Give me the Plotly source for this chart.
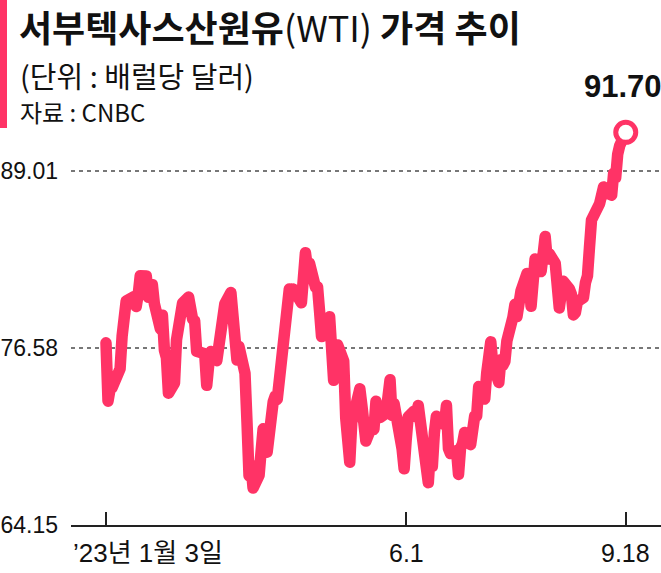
import plotly.graph_objects as go

# ---- data ----
dates = [
    "2023-01-03","2023-01-04","2023-01-05","2023-01-06","2023-01-09","2023-01-10","2023-01-11","2023-01-12","2023-01-13",
    "2023-01-17","2023-01-18","2023-01-19","2023-01-20","2023-01-23","2023-01-24","2023-01-25","2023-01-26","2023-01-27",
    "2023-01-30","2023-01-31","2023-02-01","2023-02-02","2023-02-03","2023-02-06","2023-02-07","2023-02-08","2023-02-09","2023-02-10",
    "2023-02-13","2023-02-14","2023-02-15","2023-02-16","2023-02-17","2023-02-21","2023-02-22","2023-02-23","2023-02-24",
    "2023-02-27","2023-02-28","2023-03-01","2023-03-02","2023-03-03","2023-03-06","2023-03-07","2023-03-08","2023-03-09","2023-03-10",
    "2023-03-13","2023-03-14","2023-03-15","2023-03-16","2023-03-17","2023-03-20","2023-03-21","2023-03-22","2023-03-23","2023-03-24",
    "2023-03-27","2023-03-28","2023-03-29","2023-03-30","2023-03-31","2023-04-03","2023-04-04","2023-04-05","2023-04-06",
    "2023-04-10","2023-04-11","2023-04-12","2023-04-13","2023-04-14","2023-04-17","2023-04-18","2023-04-19","2023-04-20","2023-04-21",
    "2023-04-24","2023-04-25","2023-04-26","2023-04-27","2023-04-28","2023-05-01","2023-05-02","2023-05-03","2023-05-04","2023-05-05",
    "2023-05-08","2023-05-09","2023-05-10","2023-05-11","2023-05-12","2023-05-15","2023-05-16","2023-05-17","2023-05-18","2023-05-19",
    "2023-05-22","2023-05-23","2023-05-24","2023-05-25","2023-05-26","2023-05-30","2023-05-31","2023-06-01","2023-06-02",
    "2023-06-05","2023-06-06","2023-06-07","2023-06-08","2023-06-09","2023-06-12","2023-06-13","2023-06-14","2023-06-15","2023-06-16",
    "2023-06-20","2023-06-21","2023-06-22","2023-06-23","2023-06-26","2023-06-27","2023-06-28","2023-06-29","2023-06-30",
    "2023-07-03","2023-07-05","2023-07-06","2023-07-07","2023-07-10","2023-07-11","2023-07-12","2023-07-13","2023-07-14",
    "2023-07-17","2023-07-18","2023-07-19","2023-07-20","2023-07-21","2023-07-24","2023-07-25","2023-07-26","2023-07-27","2023-07-28",
    "2023-07-31","2023-08-01","2023-08-02","2023-08-03","2023-08-04","2023-08-07","2023-08-08","2023-08-09","2023-08-10","2023-08-11",
    "2023-08-14","2023-08-15","2023-08-16","2023-08-17","2023-08-18","2023-08-21","2023-08-22","2023-08-23","2023-08-24","2023-08-25",
    "2023-08-28","2023-08-29","2023-08-30","2023-08-31","2023-09-01","2023-09-05","2023-09-06","2023-09-07","2023-09-08",
    "2023-09-11","2023-09-12","2023-09-13","2023-09-14","2023-09-15","2023-09-18",
]
prices = [
    76.93, 72.84, 73.67, 73.77, 74.63, 75.12, 77.41, 78.39, 79.86,
    80.18, 79.48, 80.33, 81.64, 81.62, 80.13, 80.15, 81.01, 79.68,
    77.90, 78.87, 76.41, 75.88, 73.39, 74.11, 77.14, 78.47, 78.06, 79.72,
    80.14, 79.06, 78.59, 78.49, 76.34, 76.16, 73.95, 75.39, 76.32,
    75.68, 77.05, 77.69, 78.16, 79.68, 80.46, 77.58, 76.66, 75.72, 76.68,
    74.80, 71.33, 67.61, 68.35, 66.74, 67.64, 69.33, 70.90, 69.96, 69.26,
    72.81, 73.20, 72.97, 74.37, 75.67, 80.42, 80.71, 80.61, 80.70,
    79.74, 81.53, 83.26, 82.16, 82.52, 80.83, 80.86, 79.16, 77.37, 77.87,
    78.76, 77.07, 74.30, 74.76, 76.78, 75.66, 71.66, 68.60, 68.56, 71.34,
    73.16, 73.71, 72.56, 70.87, 70.04, 71.11, 70.86, 72.83, 71.86, 71.69,
    71.99, 72.91, 74.34, 71.83, 72.67, 69.46, 68.09, 70.10, 71.74,
    72.15, 71.74, 72.53, 71.29, 70.17, 67.12, 69.42, 68.27, 70.62, 71.78,
    71.19, 72.53, 69.51, 69.16, 69.37, 67.70, 69.56, 69.86, 70.64,
    69.79, 71.79, 71.80, 73.86, 72.99, 74.83, 75.75, 77.00, 75.42,
    74.15, 75.75, 75.35, 75.63, 77.07, 78.74, 79.63, 78.78, 80.09, 80.58,
    81.80, 81.37, 79.49, 81.55, 82.82, 81.94, 82.92, 84.40, 82.82, 83.19,
    82.51, 80.99, 79.38, 80.39, 81.25, 80.72, 80.35, 78.89, 79.05, 79.83,
    80.10, 81.16, 81.63, 83.63, 85.55, 86.69, 87.54, 87.87, 87.51,
    87.29, 88.84, 88.52, 90.16, 90.77, 91.70,
]
y_ticks = [64.15, 76.58, 89.01]
y_tick_text = ["64.15", "76.58", "89.01"]
x_ticks = ["2023-01-03", "2023-06-01", "2023-09-18"]
x_tick_text = ["’23년 1월 3일", "6.1", "9.18"]
last_label = "91.70"

PINK = "#FF3366"
NUM_FONT = "Liberation Sans, Arial, Noto Sans CJK KR, sans-serif"
KR_FONT = "Noto Sans CJK KR, sans-serif"

fig = go.Figure()
fig.add_trace(go.Scatter(
    x=dates, y=prices, mode="lines",
    line=dict(color=PINK, width=11.5),
    hoverinfo="skip", showlegend=False,
))
fig.add_trace(go.Scatter(
    x=[dates[-1]], y=[prices[-1]], mode="markers",
    marker=dict(symbol="circle", size=20, color="white",
                line=dict(color=PINK, width=5)),
    cliponaxis=False, hoverinfo="skip", showlegend=False,
))

H_PLOT = 425.0
T = 100
L = 71
W_PLOT = 590.0

def py(px):
    return (T + H_PLOT - px) / H_PLOT

def pxx(px):
    return (px - L) / W_PLOT

annotations = [
    dict(text="<b>서부텍사스산원유</b>(WTI) <b>가격 추이</b>", x=pxx(17), y=py(26),
         xref="paper", yref="paper", xanchor="left", yanchor="middle",
         showarrow=False, font=dict(family=KR_FONT, size=36, color="#111")),
    dict(text="(단위 : 배럴당 달러)", x=pxx(18), y=py(75),
         xref="paper", yref="paper", xanchor="left", yanchor="middle",
         showarrow=False, font=dict(family=KR_FONT, size=29, color="#111")),
    dict(text="자료 : CNBC", x=pxx(18), y=py(112),
         xref="paper", yref="paper", xanchor="left", yanchor="middle",
         showarrow=False, font=dict(family=KR_FONT, size=24, color="#111")),
    dict(text="<b>" + last_label + "</b>", x=dates[-1], xshift=-3, y=py(86),
         xref="x", yref="paper", xanchor="center", yanchor="middle",
         showarrow=False, font=dict(family=NUM_FONT, size=31, color="#111")),
    dict(text=x_tick_text[0], x=0, y=py(553), xref="paper", yref="paper",
         xanchor="left", yanchor="middle", showarrow=False,
         font=dict(family=NUM_FONT, size=26, color="#111")),
]
for xv, tx in zip(x_ticks[1:], x_tick_text[1:]):
    annotations.append(dict(text=tx, x=xv, y=py(553), xref="x", yref="paper",
                            xanchor="center", yanchor="middle", showarrow=False,
                            font=dict(family=NUM_FONT, size=25, color="#111")))

fig.update_layout(
    width=661, height=573, autosize=False,
    margin=dict(l=L, r=0, t=T, b=48, pad=0),
    paper_bgcolor="white", plot_bgcolor="white",
    annotations=annotations,
    shapes=[dict(type="rect", xref="paper", yref="paper",
                 x0=pxx(0), x1=pxx(7), y0=py(128), y1=py(0),
                 fillcolor=PINK, line=dict(width=0), layer="above")],
    xaxis=dict(type="date", range=["2022-12-16 15:00", "2023-10-05 12:00"],
               showgrid=False, zeroline=False, showline=True,
               linecolor="#222", linewidth=1.5,
               ticks="inside", ticklen=13, tickwidth=1.5, tickcolor="#222",
               tickvals=x_ticks, showticklabels=False, fixedrange=True),
    yaxis=dict(range=[64.15, 64.15 + H_PLOT / 14.252],
               tickvals=y_ticks, ticktext=y_tick_text,
               showgrid=True, gridcolor="#777", gridwidth=1.5, griddash="4px,4px",
               zeroline=False, showline=False, ticks="",
               ticklabelstandoff=12,
               tickfont=dict(family=NUM_FONT, size=23, color="#111"),
               fixedrange=True),
)

post = ("document.body.style.margin='0';document.body.style.overflow='hidden';"
        "document.querySelectorAll('.scatterlayer .js-line').forEach(function(p){"
        "p.style.strokeLinejoin='round';p.style.strokeLinecap='round';});")
fig.write_html("out.html", post_script=post, config={"displayModeBar": False})
